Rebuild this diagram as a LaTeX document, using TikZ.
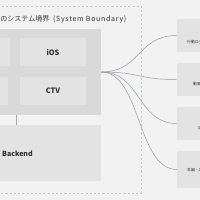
\documentclass[tikz,border=0pt]{standalone}
\usepackage{fontspec}
\setmainfont{Noto Sans CJK JP}
\usepackage{xcolor}
\usetikzlibrary{positioning, calc}

\definecolor{canvas}{HTML}{F2F2F2}
\definecolor{groupgray}{HTML}{D9D9D9}
\definecolor{boxgray}{HTML}{E3E3E3}
\definecolor{linkgray}{HTML}{8E97AA}
\definecolor{inkgray}{HTML}{333333}

\begin{document}
\begin{tikzpicture}[
    x=0.05cm, y=-0.05cm,
    font=\fontsize{10}{12}\selectfont,
    baseBox/.style={
        rectangle,
        draw=none,
        inner sep=0pt,
        text=inkgray
    },
    clients/.style={baseBox, fill=groupgray, minimum width=5.55cm, minimum height=4.3cm},
    client/.style={baseBox, fill=boxgray, minimum height=1.4cm, font=\fontsize{10.5}{12}\selectfont\bfseries},
    backendBox/.style={baseBox, fill=boxgray, minimum width=5.55cm, minimum height=2.8cm},
    outside/.style={baseBox, fill=boxgray, minimum width=1.8cm},
    tiny/.style={inner sep=0pt, text=inkgray, font=\fontsize{5.5}{6}\selectfont},
    heading/.style={inner sep=0pt, text=black!80, font=\fontsize{10}{12}\selectfont},
    boundary/.style={draw=black!22, dashed, line width=0.4pt},
    link/.style={draw=linkgray, line width=0.7pt},
    stub/.style={draw=black!35, line width=0.7pt}
]
    \clip (0,0) rectangle (200,200);
    \fill[canvas] (0,0) rectangle (200,200);

    % --- 1. System boundary ---
    \draw[boundary] (-10,6) rectangle (141,193);
    \node[heading, anchor=base east] (title) at (49.5,21.5) {対象サービスのシステム境界};
    \node[heading, anchor=base west, font=\fontsize{10}{12}\selectfont\addfontfeature{LetterSpace=10}]
        (titleEn) at (53,21.5) {(System Boundary)};

    % --- 2. Clients ---
    \node[clients] (clients) at (45.5,72) {};
    \node[client, minimum width=1cm] (web) at (0,52) {};
    \node[client, minimum width=3.3cm] (ios) at (53,52) {iOS};
    \node[client, minimum width=0.9cm] (android) at (-1,91) {};
    \node[client, minimum width=3.3cm] (ctv) at (53,91) {CTV};

    % --- 3. Backend ---
    \node[backendBox] (backend) at (45.5,153) {};
    \node[tiny, anchor=west, font=\fontsize{10}{12}\selectfont\bfseries] (backendtxt) at (2,154) {Backend};

    % --- 4. External systems ---
    \node[outside, minimum height=1.65cm] (ext1) at (195,35.5) {};
    \node[outside, minimum height=1.65cm] (ext2) at (195,79.5) {};
    \node[outside, minimum height=1.65cm] (ext3) at (195,123.5) {};
    \node[outside, minimum height=1.85cm] (ext4) at (195,169.5) {};
    \node[tiny, anchor=west] (ext1txt) at (187,42) {行動ログ収集};
    \node[tiny, anchor=west] (ext2txt) at (193,84) {動画配信};
    \node[tiny, anchor=west] (ext3txt) at (198,128) {広告配信};
    \node[tiny, anchor=west] (ext4txt) at (187,170) {本編・広告};

    % --- Connections ---
    \coordinate (tap) at (16,115);
    \draw[stub] (clients.south -| tap) -- (backend.north -| tap);

    \foreach \ext in {ext1, ext2, ext3, ext4}
        \draw[link] (clients.east) .. controls +(40,0) and +(-40,0) .. (\ext.west);
\end{tikzpicture}
\end{document}
